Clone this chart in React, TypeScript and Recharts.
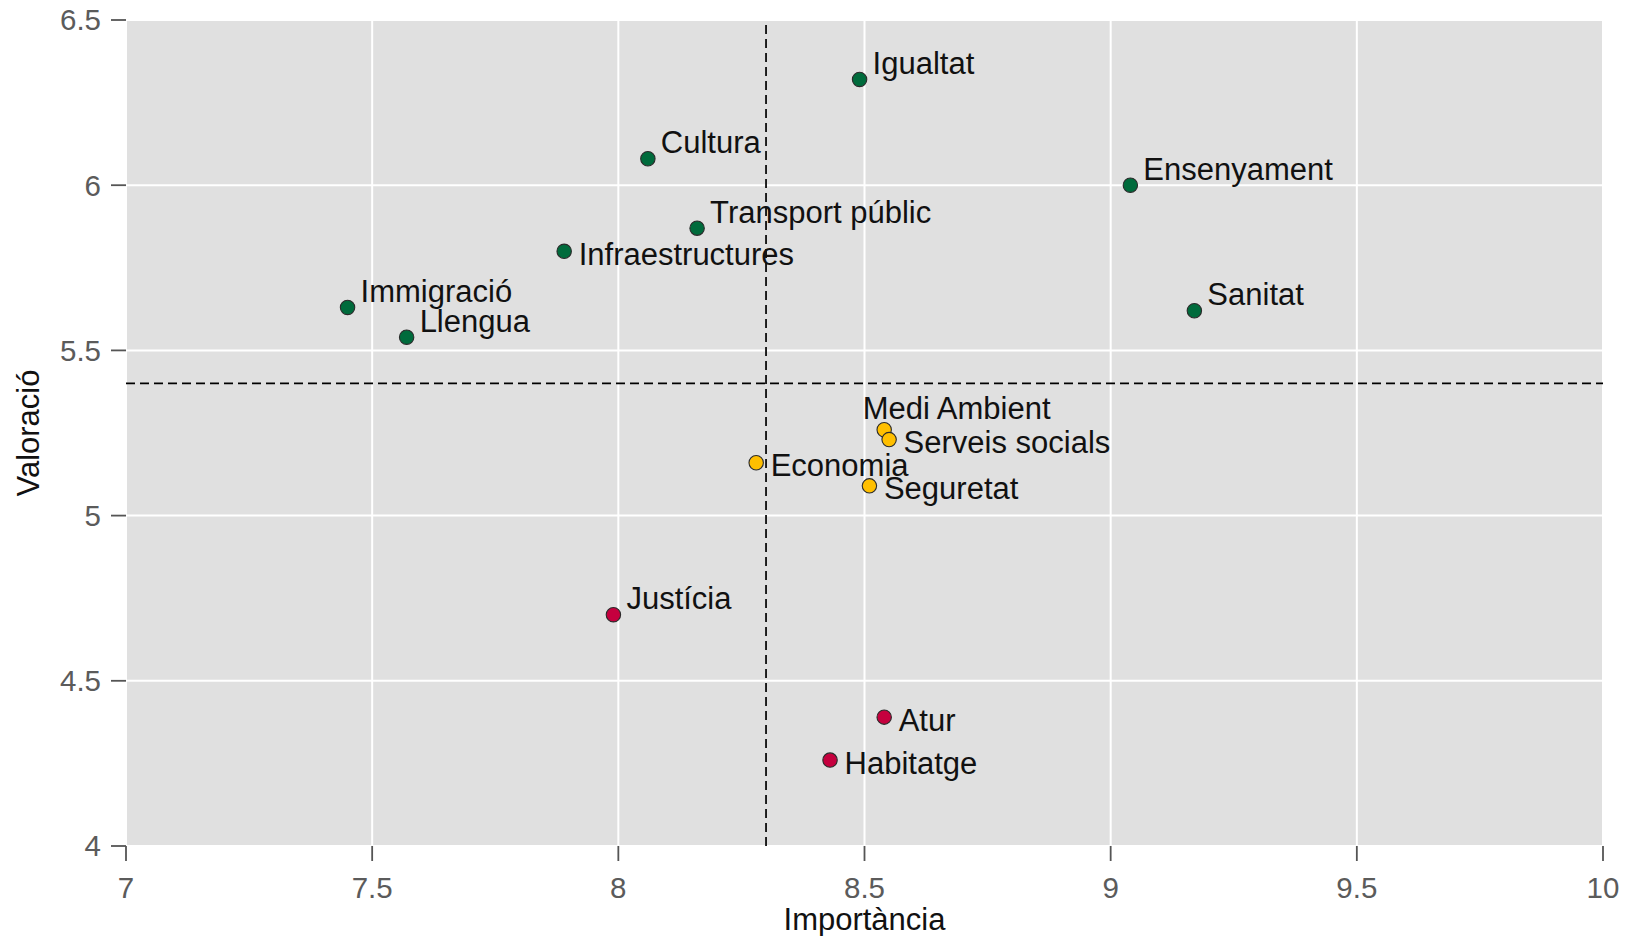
import {
  CartesianGrid,
  ReferenceLine,
  Scatter,
  ScatterChart,
  XAxis,
  YAxis,
} from 'recharts';

// Àmbits de política, importància i valoració mitjanes
const temes = [
  'Igualtat',
  'Cultura',
  'Ensenyament',
  'Transport públic',
  'Infraestructures',
  'Immigració',
  'Llengua',
  'Sanitat',
  'Medi Ambient',
  'Serveis socials',
  'Economia',
  'Seguretat',
  'Justícia',
  'Atur',
  'Habitatge',
];
const importancia = [
  8.49, 8.06, 9.04, 8.16, 7.89, 7.45, 7.57, 9.17, 8.54, 8.55, 8.28, 8.51, 7.99,
  8.54, 8.43,
];
const valoracio = [
  6.32, 6.08, 6.0, 5.87, 5.8, 5.63, 5.54, 5.62, 5.26, 5.23, 5.16, 5.09, 4.7,
  4.39, 4.26,
];
const grups = [
  'alta', 'alta', 'alta', 'alta', 'alta', 'alta', 'alta', 'alta',
  'mitjana', 'mitjana', 'mitjana', 'mitjana',
  'baixa', 'baixa', 'baixa',
];

const xTicks = [7, 7.5, 8, 8.5, 9, 9.5, 10];
const yTicks = [4, 4.5, 5, 5.5, 6, 6.5];
const mitjanaImportancia = 8.3;
const mitjanaValoracio = 5.4;

// where the label sits relative to its point
const etiquetaPos: Record<string, string> = {
  Infraestructures: 'dreta',
  'Serveis socials': 'dreta',
  Economia: 'dreta',
  Seguretat: 'dreta',
  Atur: 'dreta',
  Habitatge: 'dreta',
  'Medi Ambient': 'dalt',
};

const colors: Record<string, string> = {
  alta: '#006b3c',
  mitjana: '#ffbf00',
  baixa: '#c5003e',
};

const dades = temes.map((tema, i) => ({
  tema,
  x: importancia[i],
  y: valoracio[i],
  grup: grups[i],
}));

const FONT = '"Liberation Sans", Arial, Helvetica, sans-serif';

const Punt = (props: any) => {
  const { cx, cy, payload } = props;
  return (
    <circle
      cx={cx}
      cy={cy}
      r={7.2}
      fill={colors[payload.grup]}
      stroke="#2b2b2b"
      strokeWidth={1.1}
    />
  );
};

const Etiqueta = (props: any) => {
  const { cx, cy, payload } = props;
  const pos = etiquetaPos[payload.tema] ?? 'dalt-dreta';
  let dx = 13;
  let dy = -5.5;
  if (pos === 'dreta') {
    dx = 14.5;
    dy = 13.5;
  } else if (pos === 'dalt') {
    dx = -21.5;
    dy = -11;
  }
  return (
    <text
      x={cx + dx}
      y={cy + dy}
      fontSize={31}
      fontFamily={FONT}
      fill="#111"
    >
      {payload.tema}
    </text>
  );
};

const TitolY = (props: any) => {
  const { viewBox } = props;
  const cy = viewBox.y + viewBox.height / 2;
  return (
    <text
      x={38.5}
      y={cy}
      transform={`rotate(-90, 38.5, ${cy})`}
      textAnchor="middle"
      fontSize={31}
      fontFamily={FONT}
      fill="#111"
    >
      Valoració
    </text>
  );
};

const TitolX = (props: any) => {
  const { viewBox } = props;
  return (
    <text
      x={viewBox.x + viewBox.width / 2}
      y={930}
      textAnchor="middle"
      fontSize={31}
      fontFamily={FONT}
      fill="#111"
    >
      Importància
    </text>
  );
};

const tickStyle = { fill: '#5b5b5b', fontSize: 29.5, fontFamily: FONT };
const tickLine = { stroke: '#555', strokeWidth: 1.8 };

export default function App() {
  return (
    <div style={{ position: 'fixed', left: 0, top: 0, width: 1628, height: 936, background: '#fff' }}>
      <ScatterChart
        width={1628}
        height={936}
        margin={{ top: 20, right: 25, bottom: 0, left: 0 }}
      >
        <CartesianGrid
          fill="#e0e0e0"
          stroke="#fff"
          strokeWidth={2}
          fillOpacity={1}
        />
        <XAxis
          type="number"
          dataKey="x"
          domain={[7, 10]}
          ticks={xTicks}
          allowDataOverflow
          height={90}
          axisLine={false}
          tickSize={15}
          tickMargin={16}
          tickLine={tickLine}
          tick={tickStyle}
          interval={0}
          label={<TitolX />}
        />
        <YAxis
          type="number"
          dataKey="y"
          domain={[4, 6.5]}
          ticks={yTicks}
          allowDataOverflow
          width={126}
          axisLine={false}
          tickSize={15}
          tickMargin={10}
          tickLine={tickLine}
          tick={tickStyle}
          interval={0}
          label={<TitolY />}
        />
        <ReferenceLine
          x={mitjanaImportancia}
          stroke="#000"
          strokeWidth={1.7}
          strokeDasharray="9 5"
        />
        <ReferenceLine
          y={mitjanaValoracio}
          stroke="#000"
          strokeWidth={1.7}
          strokeDasharray="9 5"
        />
        {['alta', 'mitjana', 'baixa'].map((g) => (
          <Scatter
            key={g}
            data={dades.filter((d) => d.grup === g)}
            shape={<Punt />}
            isAnimationActive={false}
          />
        ))}
        <Scatter data={dades} shape={<Etiqueta />} isAnimationActive={false} />
      </ScatterChart>
    </div>
  );
}
